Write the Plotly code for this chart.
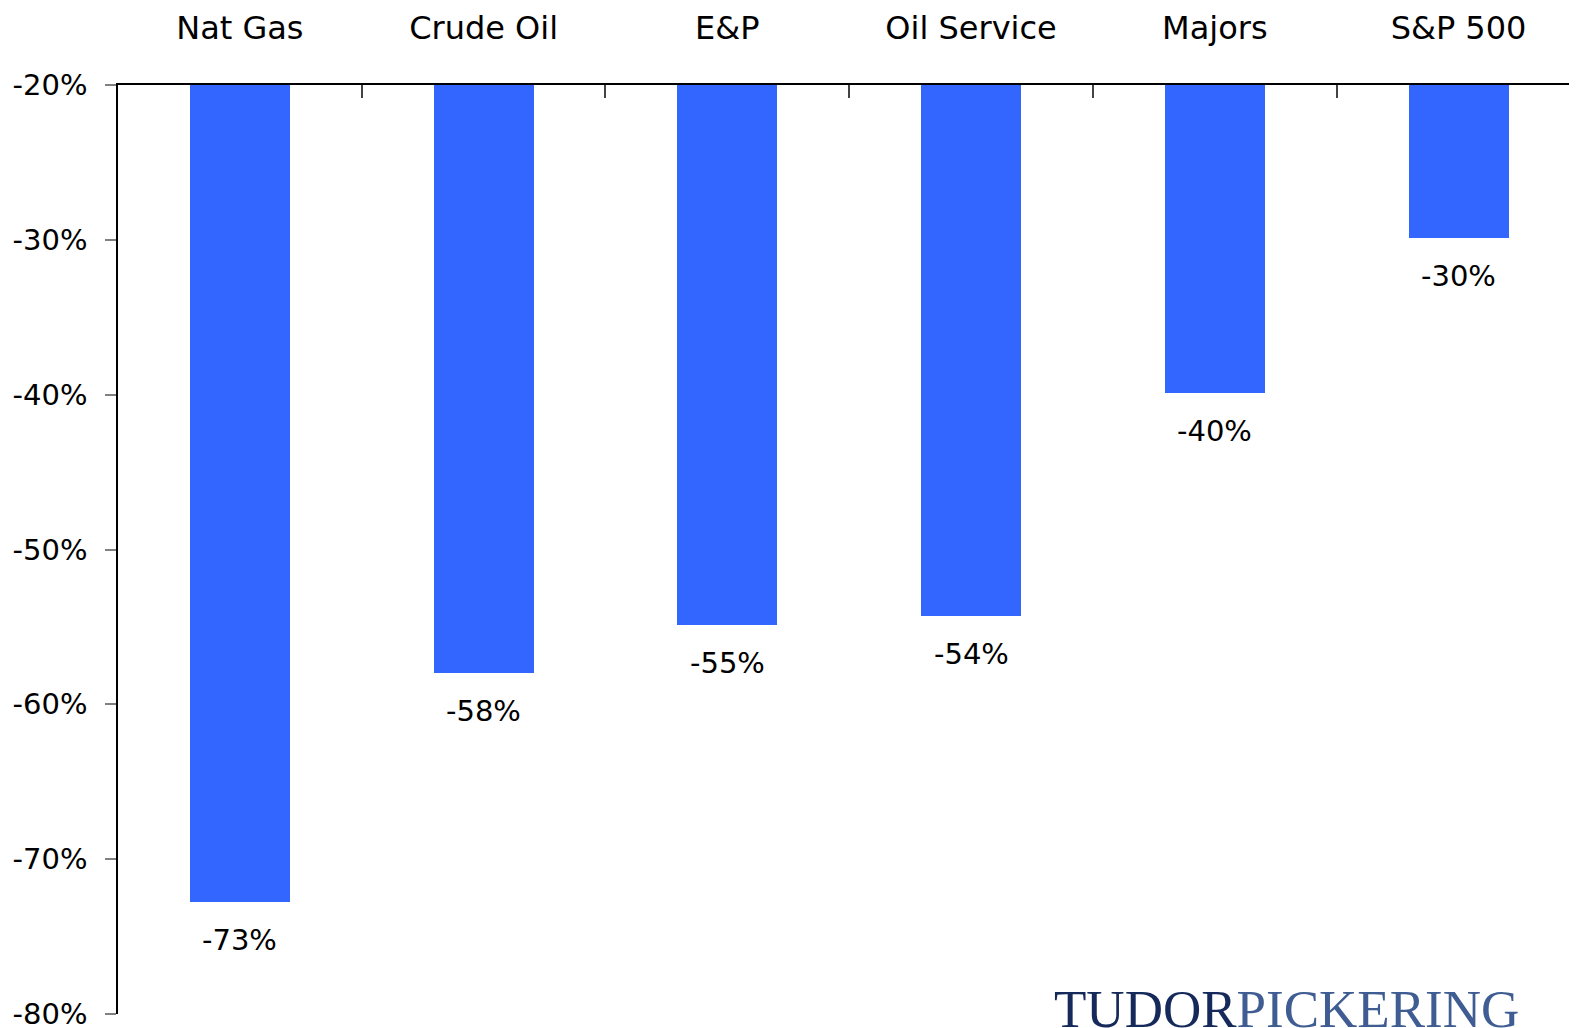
import plotly.graph_objects as go

categories = ["Nat Gas", "Crude Oil", "E&P", "Oil Service", "Majors", "S&P 500"]
values = [-72.75, -58.0, -54.9, -54.3, -39.9, -29.9]
labels = ["-73%", "-58%", "-55%", "-54%", "-40%", "-30%"]
y_ticks = [-20, -30, -40, -50, -60, -70, -80]
y_tick_text = ["-20%", "-30%", "-40%", "-50%", "-60%", "-70%", "-80%"]

FONT = "DejaVu Sans"
BAR = "#3366FF"

fig = go.Figure()
fig.add_trace(go.Bar(
    x=categories, y=values, width=0.41,
    marker=dict(color=BAR, line=dict(width=0)),
    hoverinfo="skip",
))

for c, v, t in zip(categories, values, labels):
    fig.add_annotation(x=c, y=v, text=t, showarrow=False, yshift=-38,
                       yanchor="middle", xanchor="center",
                       font=dict(family=FONT, size=29, color="black"))

# Logo
fig.add_annotation(
    xref="paper", yref="paper", x=0.6405, y=0.039, xanchor="left", yanchor="top",
    text="<span style='color:#15295a'>TUDOR</span><span style='color:#3f5d92'>PICKERING</span>",
    showarrow=False, font=dict(family="Liberation Serif", size=53),
)

fig.update_layout(
    width=1577, height=1028,
    margin=dict(l=110, r=8, t=77, b=22),
    paper_bgcolor="white", plot_bgcolor="white",
    showlegend=False,
    bargap=0,
    xaxis=dict(
        side="top", type="category", range=[-0.5, 5.486], automargin=False,
        showline=True, linecolor="black", linewidth=1.5,
        ticks="inside", ticklen=13, tickcolor="#444444", tickwidth=1.5,
        tickson="boundaries", showgrid=False, zeroline=False,
        tickfont=dict(family=FONT, size=32, color="black"),
        ticklabelstandoff=31, ticklabeloverflow="allow",
    ),
    yaxis=dict(
        range=[-80, -20], tickmode="array", tickvals=y_ticks, ticktext=y_tick_text,
        automargin=False,
        showline=True, linecolor="black", linewidth=1.5,
        ticks="outside", ticklen=11, tickcolor="#808080", tickwidth=1.5,
        showgrid=False, zeroline=False,
        tickfont=dict(family=FONT, size=29, color="black"),
        ticklabelstandoff=12, ticklabeloverflow="allow",
    ),
)

fig.write_html("out.html")
